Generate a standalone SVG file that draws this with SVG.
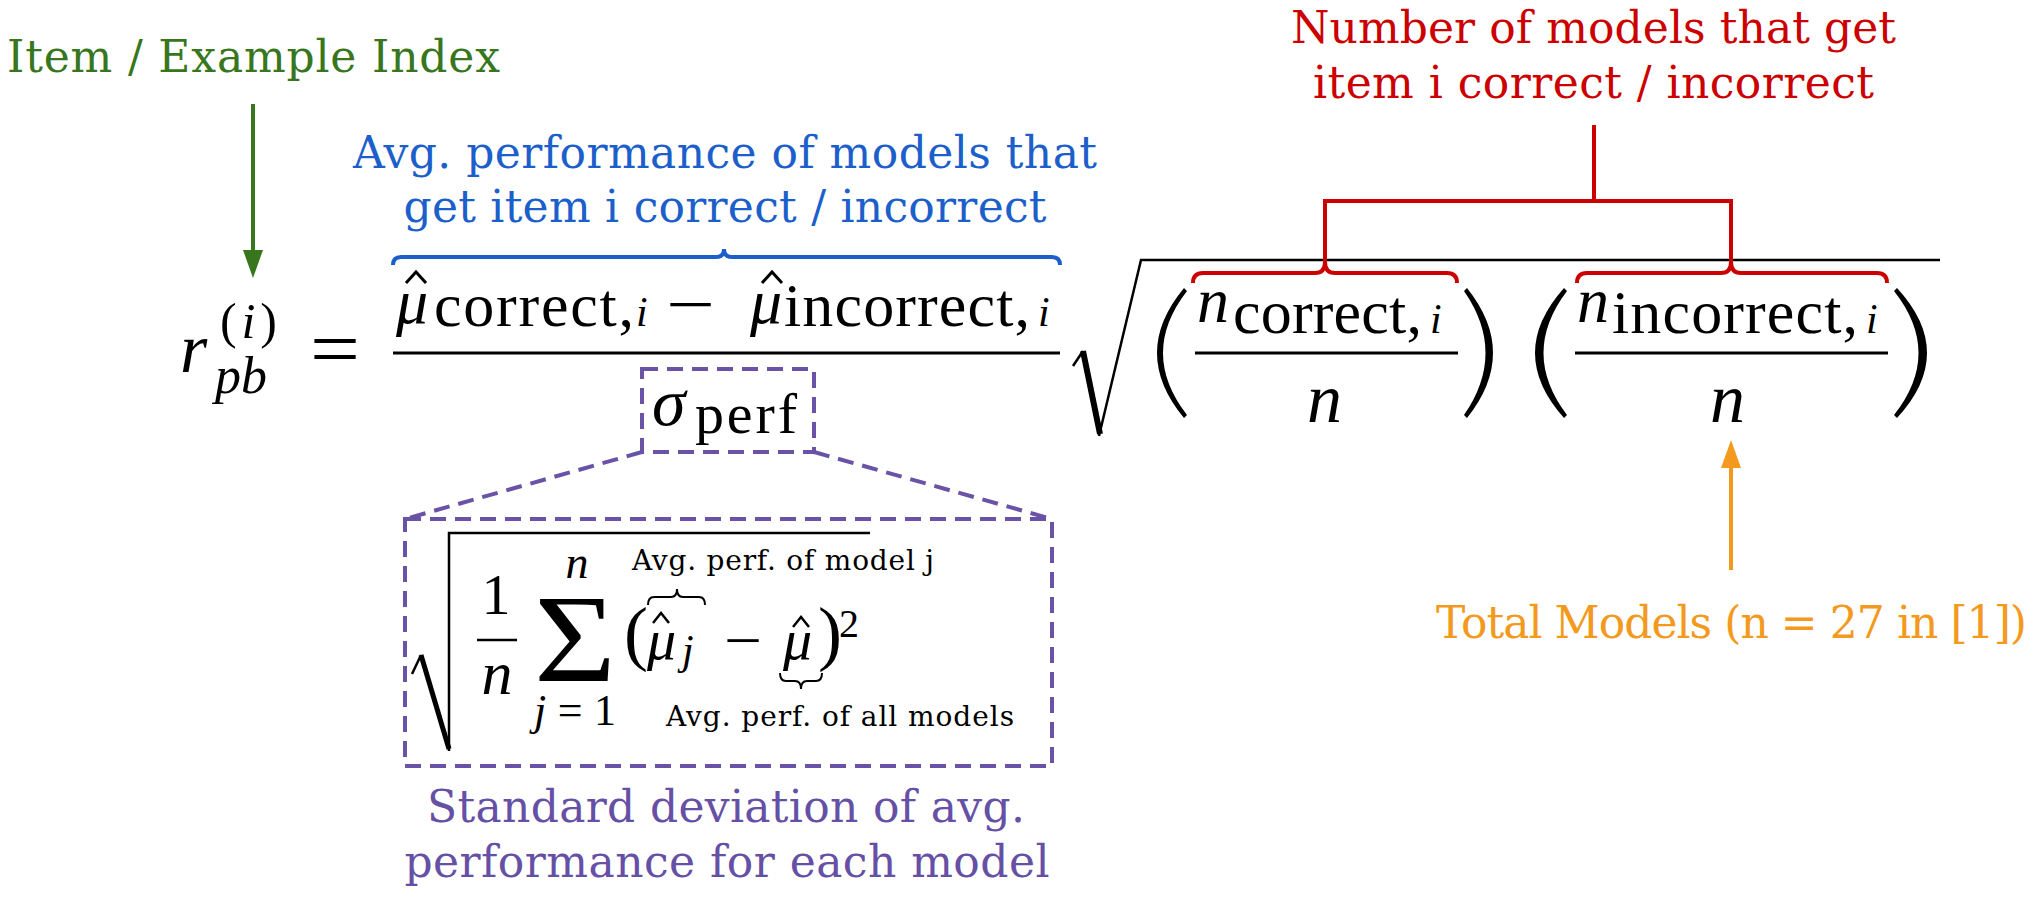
<svg xmlns="http://www.w3.org/2000/svg" width="2036" height="900" viewBox="0 0 2036 900">
<style>
.lbl{font-family:"DejaVu Serif","Liberation Serif",serif;font-size:44px}
.small{font-family:"DejaVu Serif","Liberation Serif",serif;font-size:28px;fill:#000}
.m{fill:#000}
.it{font-style:italic}
.blk{stroke:#000;fill:none}
.dash{stroke:#6a52a6;stroke-width:4;fill:none;stroke-dasharray:16 9}
.paren{fill:#000;stroke:none}
</style>
<defs>
<marker id="ahG" viewBox="0 0 28 20" markerWidth="28" markerHeight="20" refX="1" refY="10" orient="auto" markerUnits="userSpaceOnUse"><path d="M0,0 L28,10 L0,20 Z" fill="#38761d"/></marker>
<marker id="ahO" viewBox="0 0 28 20" markerWidth="28" markerHeight="20" refX="1" refY="10" orient="auto" markerUnits="userSpaceOnUse"><path d="M0,0 L28,10 L0,20 Z" fill="#f39a1e"/></marker>
</defs>
<rect width="2036" height="900" fill="#fff"/>

<g id="label-item"><text class="lbl" x="7" y="72" fill="#38761d" textLength="493">Item / Example Index</text></g>
<g id="label-avg" fill="#1c5fcb">
<text class="lbl" x="725" y="168" text-anchor="middle" textLength="744">Avg. performance of models that</text>
<text class="lbl" x="725" y="222" text-anchor="middle" textLength="643">get item i correct / incorrect</text>
</g>
<g id="label-number" fill="#cc0000">
<text class="lbl" x="1593.5" y="43" text-anchor="middle" textLength="605">Number of models that get</text>
<text class="lbl" x="1593.5" y="98" text-anchor="middle" textLength="561">item i correct / incorrect</text>
</g>
<g id="label-total"><text class="lbl" x="1436" y="638" fill="#f39a1e" textLength="591">Total Models (n = 27 in [1])</text></g>
<g id="label-std" fill="#6650a5">
<text class="lbl" x="726" y="822" text-anchor="middle" textLength="598">Standard deviation of avg.</text>
<text class="lbl" x="727" y="877" text-anchor="middle" textLength="645">performance for each model</text>
</g>

<g id="formula-lhs" font-family="'Liberation Serif', Tinos, 'DejaVu Serif', serif">
<text class="m it" x="180" y="372" font-size="70">r</text>
<text class="m" x="220" y="338" font-size="50" textLength="57">(<tspan font-style="italic">i</tspan>)</text>
<text class="m it" x="215" y="393" font-size="52">pb</text>
<text class="m" x="310" y="376" font-size="80" textLength="50" lengthAdjust="spacingAndGlyphs">=</text>
</g>

<g id="formula-fraction" font-family="'Liberation Serif', Tinos, 'DejaVu Serif', serif">
<text class="m it" x="396" y="323" font-size="64">μ</text>
<path class="blk" stroke-width="3" d="M406,283 L416,272 L426,283"/>
<text class="m" x="434" y="326" font-size="62" textLength="200">correct,</text>
<text class="m it" x="636" y="326" font-size="42">i</text>
<text class="m" x="666" y="326" font-size="64" textLength="49" lengthAdjust="spacingAndGlyphs">−</text>
<text class="m it" x="750" y="323" font-size="64">μ</text>
<path class="blk" stroke-width="3" d="M762,283 L772,272 L782,283"/>
<text class="m" x="784" y="326" font-size="62" textLength="246">incorrect,</text>
<text class="m it" x="1038" y="326" font-size="42">i</text>
<line class="blk" x1="393" y1="353" x2="1060" y2="353" stroke-width="3"/>
<text class="m it" x="652" y="425" font-size="68">σ</text>
<text class="m" x="695" y="433" font-size="58" textLength="102">perf</text>
</g>

<g id="formula-sqrt" font-family="'Liberation Serif', Tinos, 'DejaVu Serif', serif">
<path class="blk" stroke-width="2.5" d="M1073,366 L1083,351"/>
<path class="blk" stroke-width="6" d="M1083,351 L1100,434"/>
<path class="blk" stroke-width="2.5" d="M1099,436 L1141,260 L1940,260"/>
<path class="paren" d="M1184,288 Q1130,353 1184,418 L1187,415 Q1139,353 1187,291 Z"/>
<text class="m it" x="1197" y="322" font-size="64">n</text>
<text class="m" x="1233" y="333" font-size="62" textLength="189">correct,</text>
<text class="m it" x="1430" y="333" font-size="42">i</text>
<line class="blk" x1="1195" y1="353" x2="1458" y2="353" stroke-width="3"/>
<text class="m it" x="1307" y="422" font-size="70">n</text>
<path class="paren" d="M1467,288 Q1519,353 1467,418 L1464,415 Q1507,353 1464,291 Z"/>
<path class="paren" d="M1564,288 Q1506,353 1564,418 L1567,415 Q1520,353 1567,291 Z"/>
<text class="m it" x="1577" y="322" font-size="64">n</text>
<text class="m" x="1612" y="333" font-size="62" textLength="246">incorrect,</text>
<text class="m it" x="1866" y="333" font-size="42">i</text>
<line class="blk" x1="1575" y1="353" x2="1888" y2="353" stroke-width="3"/>
<text class="m it" x="1710" y="422" font-size="70">n</text>
<path class="paren" d="M1897,288 Q1957,353 1897,418 L1894,415 Q1943,353 1894,291 Z"/>
</g>

<g id="sigma-box"><rect class="dash" x="642" y="369" width="172" height="83"/></g>

<g id="std-box" font-family="'Liberation Serif', Tinos, 'DejaVu Serif', serif">
<rect class="dash" x="405" y="519" width="647" height="247"/>
<path class="blk" stroke-width="2.5" d="M412,674 L421,655"/>
<path class="blk" stroke-width="5" d="M421,655 L449,749"/>
<path class="blk" stroke-width="2.5" d="M449,751 L449,533 L870,533"/>
<text class="m" x="496" y="614" font-size="58" text-anchor="middle">1</text>
<line class="blk" x1="477" y1="640" x2="517" y2="640" stroke-width="2.5"/>
<text class="m it" x="497" y="694" font-size="62" text-anchor="middle">n</text>
<text class="m it" x="577" y="578" font-size="46" text-anchor="middle">n</text>
<text class="m" x="534" y="681" font-size="124" textLength="82" lengthAdjust="spacingAndGlyphs">Σ</text>
<text class="m" x="534" y="725" font-size="44" textLength="82"><tspan font-style="italic">j</tspan>=1</text>
<text class="m" x="624" y="657" font-size="72">(</text>
<text class="m it" x="647" y="659" font-size="58">μ</text>
<path class="blk" stroke-width="2.5" d="M653,623 L661,613 L669,623"/>
<text class="m it" x="682" y="664" font-size="42">j</text>
<text class="m" x="724" y="660" font-size="58" textLength="38" lengthAdjust="spacingAndGlyphs">−</text>
<text class="m it" x="783" y="659" font-size="58">μ</text>
<path class="blk" stroke-width="2.5" d="M793,627 L801,617 L809,627"/>
<text class="m" x="818" y="657" font-size="72">)</text>
<text class="m" x="839" y="637" font-size="40">2</text>
<path class="blk" stroke-width="2" d="M648,605 Q648,597 654,597 L671,597 Q677,597 677,589 Q677,597 683,597 L699,597 Q705,597 705,605"/>
<path class="blk" stroke-width="2" d="M780,673 Q780,681 786,681 L795,681 Q801,681 801,689 Q801,681 807,681 L816,681 Q822,681 822,673"/>
<text class="small" x="632" y="570" textLength="302">Avg. perf. of model j</text>
<text class="small" x="666" y="726" textLength="348">Avg. perf. of all models</text>
</g>

<g id="connectors">
<line x1="253" y1="104" x2="253" y2="251" stroke="#38761d" stroke-width="4" marker-end="url(#ahG)"/>
<path d="M393,265 Q393,257 401,257 L716,257 Q724,257 724,249 Q724,257 732,257 L1052,257 Q1060,257 1060,265" fill="none" stroke="#1c5fcb" stroke-width="4"/>
<path d="M1193,283 Q1193,273 1203,273 L1315,273 Q1325,273 1325,262 Q1325,273 1335,273 L1447,273 Q1457,273 1457,283" fill="none" stroke="#cc0000" stroke-width="4"/>
<path d="M1577,283 Q1577,273 1587,273 L1721,273 Q1731,273 1731,262 Q1731,273 1741,273 L1877,273 Q1887,273 1887,283" fill="none" stroke="#cc0000" stroke-width="4"/>
<path d="M1325,263 L1325,201 L1731,201 L1731,263 M1594,201 L1594,125" fill="none" stroke="#cc0000" stroke-width="4"/>
<line x1="1731" y1="570" x2="1731" y2="467" stroke="#f39a1e" stroke-width="4" marker-end="url(#ahO)"/>
<path class="dash" d="M642,452 L405,519 M814,452 L1052,519"/>
</g>
</svg>
